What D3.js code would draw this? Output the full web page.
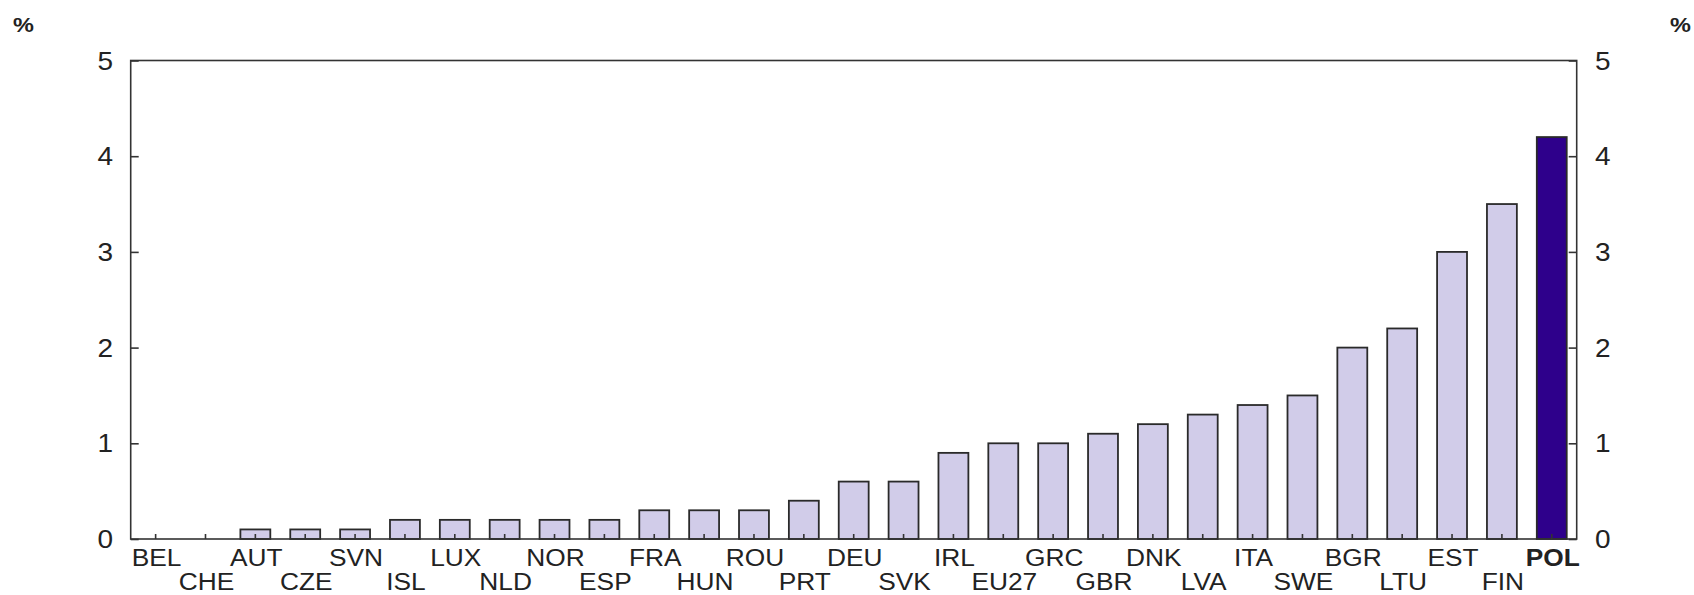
<!DOCTYPE html>
<html><head><meta charset="utf-8">
<script src="https://cdn.jsdelivr.net/npm/d3@7"></script>
<style>body{margin:0;background:#fff}svg{display:block}text{font-family:"Liberation Sans",Arial,sans-serif;fill:#222}</style>
</head><body><svg id="c" width="1694" height="595"></svg>
<script>
const categories = ["BEL","CHE","AUT","CZE","SVN","ISL","LUX","NLD","NOR","ESP","FRA","HUN","ROU","PRT","DEU","SVK","IRL","EU27","GRC","GBR","DNK","LVA","ITA","SWE","BGR","LTU","EST","FIN","POL"];
const values = [0,0,0.1,0.1,0.1,0.2,0.2,0.2,0.2,0.2,0.3,0.3,0.3,0.4,0.6,0.6,0.9,1.0,1.0,1.1,1.2,1.3,1.4,1.5,2.0,2.2,3.0,3.5,4.2];
const yTicks = [0,1,2,3,4,5];
const highlight = "POL";

const svg = d3.select("#c");
const L=130.7, R=1576.7, T=60.5, B=539;
const x = d3.scaleBand().domain(categories).range([L,R]).paddingInner(0.4).paddingOuter(0.2);
const y = d3.scaleLinear().domain([0,5]).range([B,T]);
const sx = 1.12;

// bars
svg.append("g").selectAll("rect").data(categories).join("rect")
  .attr("x", d=>x(d)).attr("width", x.bandwidth())
  .attr("y", (d,i)=>y(values[i])).attr("height",(d,i)=>B-y(values[i]))
  .attr("fill", d=>d===highlight?"#2e008b":"#d1cce9")
  .attr("stroke","#2a2a2a").attr("stroke-width",1.8);

// frame
svg.append("rect").attr("x",L).attr("y",T).attr("width",R-L).attr("height",B-T)
  .attr("fill","none").attr("stroke","#333").attr("stroke-width",1.6);

// y axes ticks inside
const gl = svg.append("g").attr("transform",`translate(${L},0)`).call(d3.axisRight(y).tickValues(yTicks).tickSize(8).tickFormat(""));
const gr = svg.append("g").attr("transform",`translate(${R},0)`).call(d3.axisLeft(y).tickValues(yTicks).tickSize(8).tickFormat(""));
[gl,gr].forEach(g=>{g.select(".domain").remove();g.selectAll("line").attr("stroke","#333").attr("stroke-width",1.6);});

// category ticks
const gx = svg.append("g").attr("transform",`translate(0,${B})`).call(d3.axisTop(x).tickSize(5).tickFormat(""));
gx.select(".domain").remove();
gx.selectAll("line").attr("stroke","#333").attr("stroke-width",1.6);

// y labels
yTicks.forEach(t=>{
  svg.append("text").attr("transform",`translate(113,${y(t)+9}) scale(${sx},1)`).attr("text-anchor","end").attr("font-size",25).text(t);
  svg.append("text").attr("transform",`translate(1595,${y(t)+9}) scale(${sx},1)`).attr("text-anchor","start").attr("font-size",25).text(t);
});
svg.append("text").attr("transform",`translate(13,32) scale(${sx},1)`).attr("font-size",21).attr("font-weight","bold").attr("fill","#444").text("%");
svg.append("text").attr("transform",`translate(1670,32) scale(${sx},1)`).attr("font-size",21).attr("font-weight","bold").attr("fill","#444").text("%");

// category labels
categories.forEach((c,i)=>{
  const cx = x(c)+x.bandwidth()/2;
  const yy = i%2===0 ? 566 : 590;
  svg.append("text").attr("transform",`translate(${cx+1},${yy}) scale(${sx},1)`).attr("text-anchor","middle")
    .attr("font-size",23.5).attr("font-weight",c===highlight?"bold":"normal").text(c);
});
</script></body></html>
